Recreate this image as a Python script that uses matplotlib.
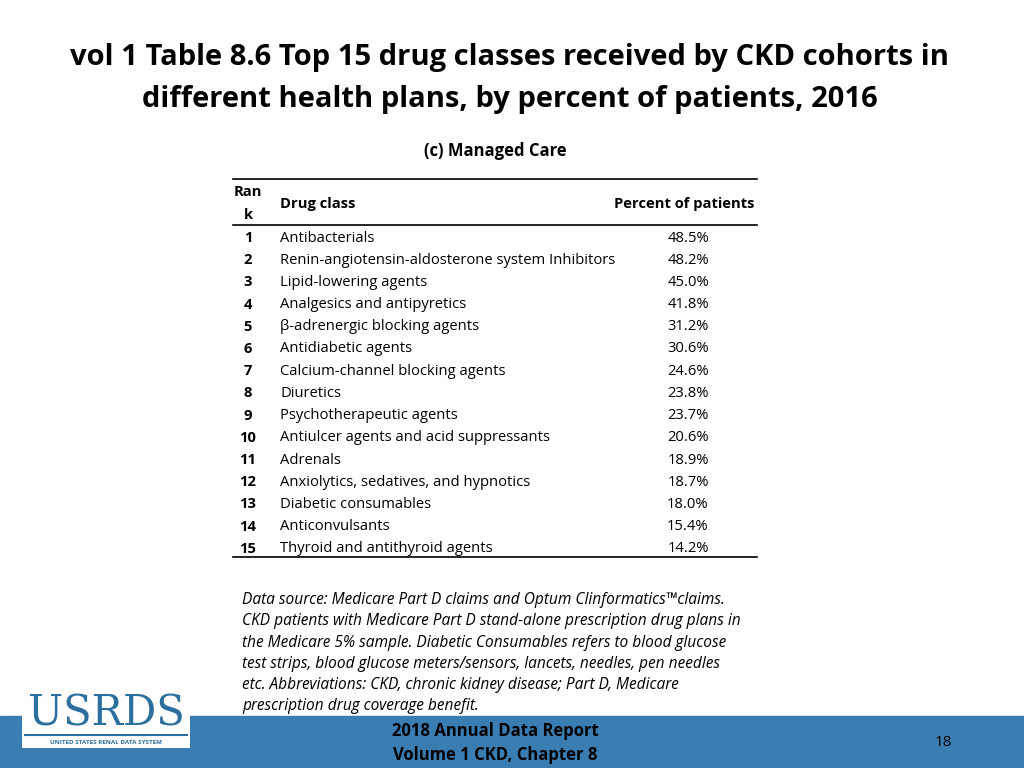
import matplotlib
matplotlib.use("Agg")
import matplotlib.pyplot as plt
from matplotlib.patches import Rectangle

plt.rcParams['font.family'] = 'Open Sans'

# ═══ 数据 ═══
ranks = list(range(1, 16))
drug_classes = [
    "Antibacterials",
    "Renin-angiotensin-aldosterone system Inhibitors",
    "Lipid-lowering agents",
    "Analgesics and antipyretics",
    "β-adrenergic blocking agents",
    "Antidiabetic agents",
    "Calcium-channel blocking agents",
    "Diuretics",
    "Psychotherapeutic agents",
    "Antiulcer agents and acid suppressants",
    "Adrenals",
    "Anxiolytics, sedatives, and hypnotics",
    "Diabetic consumables",
    "Anticonvulsants",
    "Thyroid and antithyroid agents",
]
percents = [48.5, 48.2, 45.0, 41.8, 31.2, 30.6, 24.6, 23.8, 23.7, 20.6, 18.9, 18.7, 18.0, 15.4, 14.2]

note_lines = [
    "Data source: Medicare Part D claims and Optum Clinformatics™claims.",
    "CKD patients with Medicare Part D stand-alone prescription drug plans in",
    "the Medicare 5% sample. Diabetic Consumables refers to blood glucose",
    "test strips, blood glucose meters/sensors, lancets, needles, pen needles",
    "etc. Abbreviations: CKD, chronic kidney disease; Part D, Medicare",
    "prescription drug coverage benefit.",
]

W, H = 1024, 768
fig = plt.figure(figsize=(W / 100, H / 100), dpi=100)
ax = fig.add_axes([0, 0, 1, 1])
ax.set_xlim(0, W)
ax.set_ylim(H, 0)
ax.axis('off')

# 标题
ax.text(510, 58, "vol 1 Table 8.6 Top 15 drug classes received by CKD cohorts in",
        ha='center', va='center', fontsize=21, fontweight='bold')
ax.text(510, 100, "different health plans, by percent of patients, 2016",
        ha='center', va='center', fontsize=21, fontweight='bold')
ax.text(495, 151, "(c) Managed Care", ha='center', va='center', fontsize=12, fontweight='bold')

# 表格
x0, x1 = 233, 757
for y in (179, 225, 557):
    ax.plot([x0, x1], [y, y], color='black', lw=1.2)
fs = 10.6
ax.text(248, 192, "Ran", ha='center', va='center', fontsize=fs, fontweight='bold')
ax.text(248, 215, "k", ha='center', va='center', fontsize=fs, fontweight='bold')
ax.text(280, 204, "Drug class", ha='left', va='center', fontsize=fs, fontweight='bold')
ax.text(755, 204, "Percent of patients", ha='right', va='center', fontsize=fs, fontweight='bold')

y_start, dy = 238, 22.2
for i, (r, d, p) in enumerate(zip(ranks, drug_classes, percents)):
    y = y_start + i * dy
    ax.text(248, y, str(r), ha='center', va='center', fontsize=fs, fontweight='bold')
    ax.text(280, y, d, ha='left', va='center', fontsize=fs)
    ax.text(688, y, f"{p:.1f}%", ha='center', va='center', fontsize=fs)

# 注释
for i, line in enumerate(note_lines):
    ax.text(242, 600 + i * 21.3, line, ha='left', va='center', fontsize=11.2, style='italic')

# 页脚
ax.add_patch(Rectangle((0, 716), W, 52, color='#3a7db2', zorder=0))
ax.add_patch(Rectangle((22, 690), 168, 58, facecolor='white', edgecolor='none', zorder=1))
ax.text(106, 713, "USRDS", ha='center', va='center', fontsize=30, color='#2a6f9e',
        family='DejaVu Serif', zorder=2)
ax.plot([25, 187], [735, 735], color='#2a6f9e', lw=1.5, zorder=2)
ax.text(106, 742, "UNITED STATES RENAL DATA SYSTEM", ha='center', va='center', fontsize=4.5,
        color='#2a6f9e', fontweight='bold', zorder=2)
ax.text(495, 731, "2018 Annual Data Report", ha='center', va='center', fontsize=12, fontweight='bold')
ax.text(495, 755, "Volume 1 CKD, Chapter 8", ha='center', va='center', fontsize=12, fontweight='bold')
ax.text(943, 742, "18", ha='center', va='center', fontsize=11)

fig.savefig("out.png", dpi=100, facecolor='white')
